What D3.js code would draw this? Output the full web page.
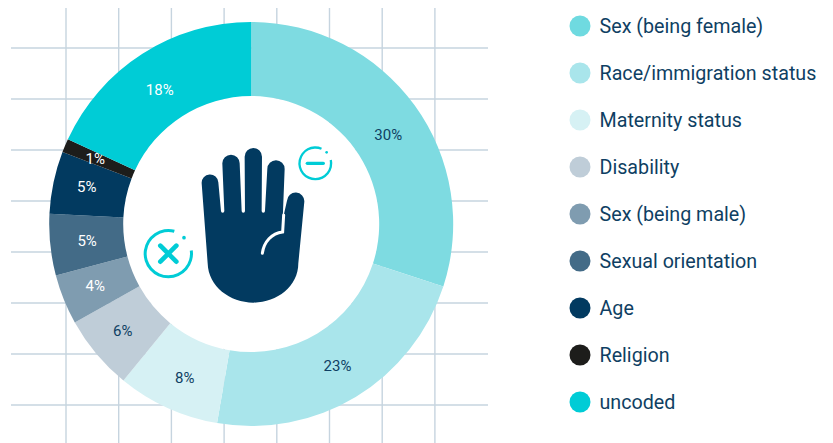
<!DOCTYPE html>
<html>
<head>
<meta charset="utf-8">
<script src="https://cdn.jsdelivr.net/npm/d3@7"></script>
<style>
  html, body { margin: 0; padding: 0; background: #fff; }
  text { font-family: Roboto, sans-serif; }
</style>
</head>
<body>
<div id="chart"></div>
<script>
var categories = ["Sex (being female)", "Race/immigration status", "Maternity status", "Disability",
                  "Sex (being male)", "Sexual orientation", "Age", "Religion", "uncoded"];
var shares = [30, 22.7, 8.2, 6, 4, 4.9, 5, 1.1, 18.1];
var colors = ["#7edbe1", "#a9e5eb", "#d6f1f4", "#bfcdd8", "#7f9cb0", "#436b87", "#023a60", "#1d1d1b", "#00ccd6"];
var legendColors = ["#6fdae0", "#a9e5eb", "#d6f1f4", "#bfcdd8", "#7f9cb0", "#436b87", "#023a60", "#1d1d1b", "#00ccd6"];
var labelColors = ["#0f3f63", "#0f3f63", "#0f3f63", "#0f3f63", "#fff", "#fff", "#fff", "#fff", "#fff"];

function init() {
    var w = 833;
    var h = 443;
    var cx = 251.2;
    var cy = 224;
    var outerRadius = 202;
    var innerRadius = 128;

    var svg = d3.select("#chart")
                .append("svg")
                .attr("width", w)
                .attr("height", h)
                .style("display", "block");

    // Background grid
    var grid = svg.append("g")
                  .attr("stroke", "#c6d4df")
                  .attr("stroke-width", 1.4);
    grid.selectAll("line.v")
        .data(d3.range(8))
        .enter()
        .append("line")
        .attr("x1", function(d) { return 66 + d * 52.7; })
        .attr("x2", function(d) { return 66 + d * 52.7; })
        .attr("y1", 8)
        .attr("y2", h);
    grid.selectAll("line.h")
        .data(d3.range(8))
        .enter()
        .append("line")
        .attr("x1", 11)
        .attr("x2", 488)
        .attr("y1", function(d) { return 48 + d * 51; })
        .attr("y2", function(d) { return 48 + d * 51; });

    var arc = d3.arc()
                .outerRadius(outerRadius)
                .innerRadius(innerRadius);
    var pie = d3.pie().sort(null);

    var donut = svg.append("g")
                   .attr("transform", "translate(" + cx + "," + cy + ")");

    donut.append("circle")
         .attr("r", innerRadius)
         .attr("fill", "#fff");

    var arcs = donut.selectAll("g.arc")
                    .data(pie(shares))
                    .enter()
                    .append("g")
                    .attr("class", "arc");

    arcs.append("path")
        .attr("fill", function(d, i) { return colors[i]; })
        .attr("d", arc);

    // Labels sit near the centroid, nudged by hand like the original
    var nudge = [[3.5, 8], [1, 0], [2, 3], [-2, 1], [-3, 0], [0, 0], [-3, -3], [-4, -1], [-2.6, 5]];
    arcs.append("text")
        .text(function(d) { return Math.round(d.value) + "%"; })
        .attr("transform", function(d, i) {
            var c = arc.centroid(d);
            return "translate(" + (c[0] + nudge[i][0]) + "," + (c[1] + nudge[i][1]) + ")";
        })
        .attr("text-anchor", "middle")
        .attr("dy", "0.36em")
        .attr("font-size", "15px")
        .attr("fill", function(d, i) { return labelColors[i]; });

    // Hand icon, traced at 3x
    var icons = svg.append("g")
                   .attr("transform", "translate(130,130) scale(0.3333)");
    icons.append("path")
         .attr("fill", "#023a60")
         .attr("d", "M215 160 A25 25 0 0 1 265 157 L273 243 A5 5 0 0 0 283 243 L277 100 A26 26 0 0 1 329 100 " +
                    "L335 243 A5 5 0 0 0 345 243 L344 80 A26 26 0 0 1 396 80 L395 243 A5 5 0 0 0 405 243 " +
                    "L412 117 A26 26 0 0 1 464 117 L458 270 L471 212 A26 26 0 0 1 523 215 L505 400 " +
                    "C505 470 440 518 370 518 C300 518 235 470 233 400 Z");
    icons.append("path")
         .attr("fill", "none")
         .attr("stroke", "#fff")
         .attr("stroke-width", 9)
         .attr("stroke-linecap", "round")
         .attr("d", "M461 255 L458 306 C425 310 402 335 397 370");

    // Minus and cross badges
    var teal = "#00ccd6";
    var deg = Math.PI / 180;
    var minus = icons.append("g").attr("transform", "translate(556,100)");
    minus.append("path")
         .attr("fill", teal)
         .attr("d", d3.arc()({ innerRadius: 44, outerRadius: 51, startAngle: 78 * deg, endAngle: 383 * deg }));
    minus.append("circle").attr("cx", 34).attr("cy", -33).attr("r", 4).attr("fill", teal);
    minus.append("line")
         .attr("x1", -24).attr("x2", 24)
         .attr("stroke", teal).attr("stroke-width", 10).attr("stroke-linecap", "round");

    var cross = icons.append("g").attr("transform", "translate(115,371)");
    cross.append("path")
         .attr("fill", teal)
         .attr("d", d3.arc()({ innerRadius: 65, outerRadius: 74, startAngle: 82 * deg, endAngle: 375 * deg }));
    cross.append("circle").attr("cx", 47).attr("cy", -48).attr("r", 5.5).attr("fill", teal);
    cross.selectAll("line")
         .data([1, -1])
         .enter()
         .append("line")
         .attr("x1", -24).attr("x2", 24)
         .attr("y1", function(d) { return -24 * d; })
         .attr("y2", function(d) { return 24 * d; })
         .attr("stroke", teal).attr("stroke-width", 14).attr("stroke-linecap", "round");

    // Legend
    var legend = svg.selectAll("g.legend")
                    .data(categories)
                    .enter()
                    .append("g")
                    .attr("class", "legend")
                    .attr("transform", function(d, i) { return "translate(580," + (26 + i * 47) + ")"; });
    legend.append("circle")
          .attr("r", 10.5)
          .attr("fill", function(d, i) { return legendColors[i]; });
    legend.append("text")
          .text(function(d) { return d; })
          .attr("x", 19.5)
          .attr("dy", "0.35em")
          .attr("font-size", "19.7px")
          .attr("fill", "#0f3f63");
}

window.onload = init;
</script>
</body>
</html>
